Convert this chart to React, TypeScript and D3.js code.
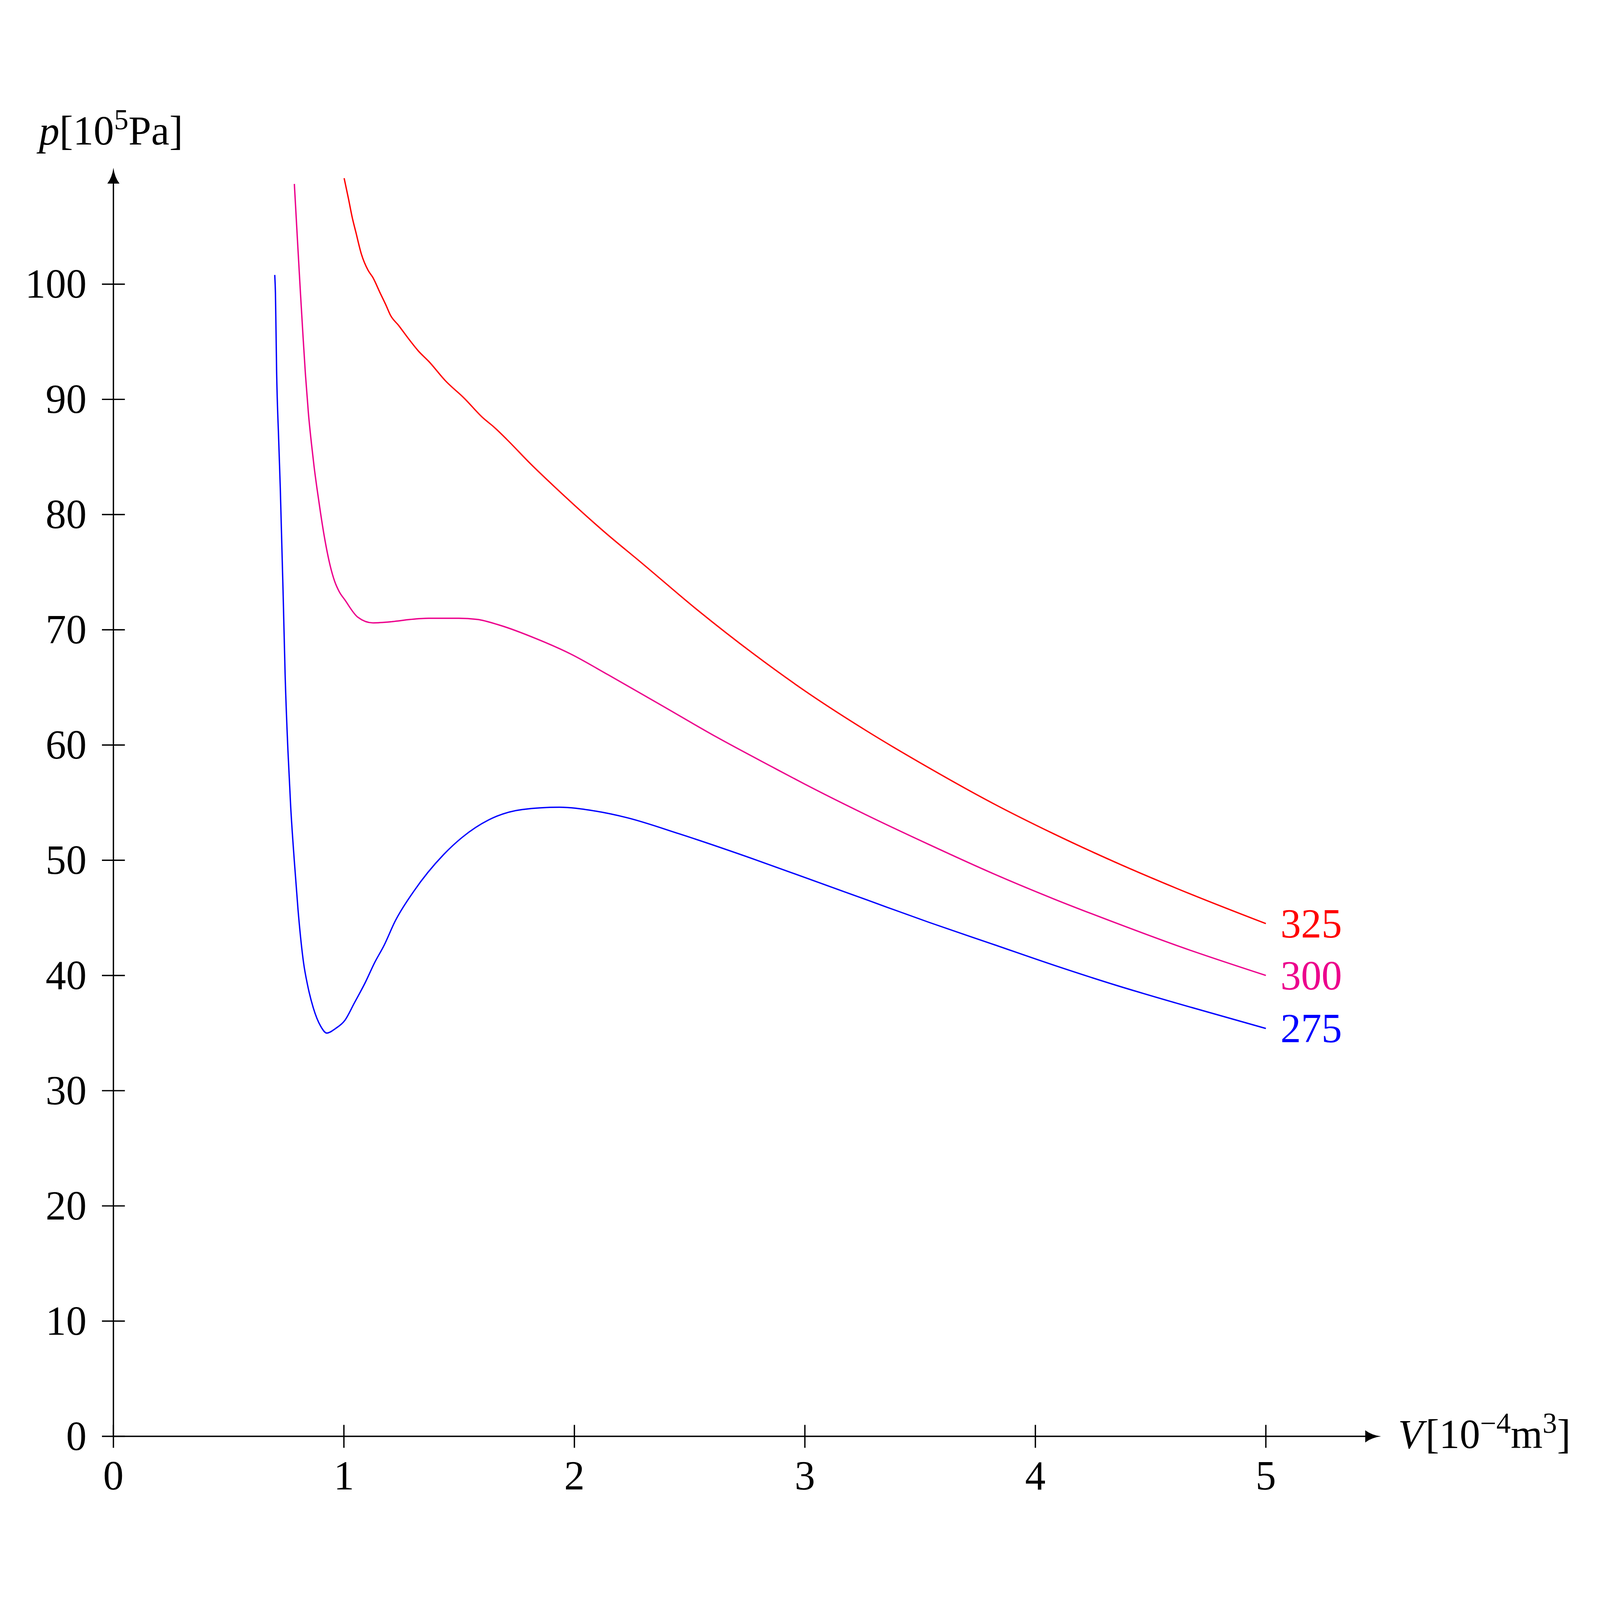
import * as d3 from 'd3'

// volume in 10^-4 m^3, pressure in 10^5 Pa
const v275 = [0.700, 0.703, 0.708, 0.717, 0.724, 0.737, 0.745, 0.757, 0.769, 0.785, 0.801, 0.825, 0.842, 0.867, 0.899, 0.926, 0.964, 1.004, 1.045, 1.093, 1.133, 1.174, 1.222, 1.303, 1.433, 1.514, 1.628, 1.773, 1.935, 2.081, 2.227, 2.454, 2.778, 3.000, 3.270, 3.540, 3.810, 4.079, 4.350, 4.620, 5.000]
const p275 = [100.8, 99.2, 92.5, 86.5, 82.3, 72.6, 66.1, 59.6, 54.7, 49.9, 45.7, 41.1, 39.2, 37.2, 35.6, 35.0, 35.4, 36.1, 37.6, 39.4, 41.1, 42.6, 44.7, 47.3, 50.5, 52.0, 53.5, 54.4, 54.6, 54.3, 53.7, 52.3, 50.1, 48.5, 46.55, 44.6, 42.75, 40.9, 39.15, 37.55, 35.4]

const v300 = [0.785, 0.798, 0.811, 0.822, 0.833, 0.846, 0.859, 0.871, 0.883, 0.899, 0.915, 0.928, 0.940, 0.960, 0.980, 1.004, 1.060, 1.126, 1.206, 1.288, 1.368, 1.498, 1.579, 1.676, 1.838, 1.984, 2.146, 2.373, 2.616, 2.858, 3.000, 3.270, 3.540, 3.810, 4.079, 4.350, 4.620, 5.000]
const p300 = [108.7, 104.0, 99.4, 95.7, 92.2, 88.8, 86.2, 84.1, 82.3, 80.1, 78.1, 76.7, 75.6, 74.2, 73.3, 72.6, 71.1, 70.6, 70.7, 70.9, 71.0, 71.0, 70.9, 70.4, 69.2, 67.9, 66.1, 63.5, 60.7, 58.1, 56.6, 53.9, 51.35, 48.9, 46.65, 44.55, 42.55, 40.0]

const v325 = [1.001, 1.020, 1.036, 1.052, 1.076, 1.105, 1.125, 1.158, 1.182, 1.202, 1.238, 1.279, 1.323, 1.368, 1.441, 1.522, 1.603, 1.651, 1.708, 1.810, 1.920, 2.130, 2.292, 2.535, 2.778, 3.000, 3.270, 3.540, 3.810, 4.079, 4.350, 4.620, 5.000]
const p325 = [109.2, 107.4, 105.8, 104.5, 102.6, 101.2, 100.6, 99.2, 98.2, 97.3, 96.4, 95.3, 94.2, 93.3, 91.6, 90.1, 88.4, 87.6, 86.5, 84.4, 82.3, 78.5, 75.8, 71.7, 67.9, 64.7, 61.2, 58.0, 55.0, 52.3, 49.8, 47.5, 44.5]

const temps = ['275', '300', '325']
const colors = ['#0000ff', '#ec008c', '#ff0000']

const xTicks = [0, 1, 2, 3, 4, 5]
const yTicks = [0, 10, 20, 30, 40, 50, 60, 70, 80, 90, 100]
const xAxisEnd = 5.5
const yAxisEnd = 110.1

const W = 6560
const H = 5756
const FONT = '"Liberation Serif", "DejaVu Serif", serif'
const FS = 168

export default function App() {
  const x = d3.scaleLinear().domain([0, 5]).range([465, 5190])
  const y = d3.scaleLinear().domain([0, 100]).range([5487, 763])

  const series = [
    { t: temps[0], color: colors[0], pts: v275.map((v, i) => [v, p275[i]]) },
    { t: temps[1], color: colors[1], pts: v300.map((v, i) => [v, p300[i]]) },
    { t: temps[2], color: colors[2], pts: v325.map((v, i) => [v, p325[i]]) },
  ]

  const line = d3.line<number[]>()
    .x(d => x(d[0]))
    .y(d => y(d[1]))
    .curve(d3.curveMonotoneX)

  const x0 = x(0)
  const y0 = y(0)
  const xEnd = x(xAxisEnd)
  const yEnd = y(yAxisEnd)
  const tick = 47
  const sw = 5.5

  // latex style arrow tip pointing right, rotated for the y axis
  const L = 65
  const hw = 25
  const arrow = `M0,0 Q${-L * 0.6},${-hw * 0.2} ${-L},${-hw} L${-L},${hw} Q${-L * 0.6},${hw * 0.2} 0,0 Z`

  return (
    <svg viewBox={`0 0 ${W} ${H}`} preserveAspectRatio="xMidYMid meet"
      style={{ position: 'fixed', left: 0, top: 0, width: '100vw', height: '100vh', display: 'block', background: '#fff' }}
      fontFamily={FONT}>
      <rect width={W} height={H} fill="#fff" />

      {/* axes */}
      <line x1={x0} y1={y0} x2={xEnd - 20} y2={y0} stroke="#000" strokeWidth={sw} />
      <line x1={x0} y1={y0} x2={x0} y2={yEnd + 20} stroke="#000" strokeWidth={sw} />
      <path d={arrow} transform={`translate(${xEnd},${y0})`} fill="#000" />
      <path d={arrow} transform={`translate(${x0},${yEnd}) rotate(-90)`} fill="#000" />

      {xTicks.map(t => (
        <g key={'x' + t}>
          <line x1={x(t)} x2={x(t)} y1={y0 - tick} y2={y0 + tick} stroke="#000" strokeWidth={sw} />
          <text x={x(t)} y={5704} fontSize={FS} textAnchor="middle">{t}</text>
        </g>
      ))}
      {yTicks.map(t => (
        <g key={'y' + t}>
          <line x1={x0 - tick} x2={x0 + tick} y1={y(t)} y2={y(t)} stroke="#000" strokeWidth={sw} />
          <text x={x0 - 110} y={y(t) + 56} fontSize={FS} textAnchor="end">{t}</text>
        </g>
      ))}

      {/* axis labels */}
      <text x={455} y={191} fontSize={FS} textAnchor="middle">
        <tspan fontStyle="italic">p</tspan>
        <tspan>[10</tspan>
        <tspan dy={-63} fontSize={118}>5</tspan>
        <tspan dy={63}>Pa]</tspan>
      </text>
      <text x={5732} y={5535} fontSize={FS}>
        <tspan fontStyle="italic">V</tspan>
        <tspan dx={10}>[10</tspan>
        <tspan dy={-63} fontSize={118}>{'\u22124'}</tspan>
        <tspan dy={63}>m</tspan>
        <tspan dy={-63} fontSize={118}>3</tspan>
        <tspan dy={63}>]</tspan>
      </text>

      {/* isotherms */}
      {series.map(s => {
        const last = s.pts[s.pts.length - 1]
        return (
          <g key={s.t}>
            <path d={line(s.pts) ?? ''} fill="none" stroke={s.color} strokeWidth={sw} strokeLinejoin="round" />
            <text x={x(last[0]) + 60} y={y(last[1]) + 57} fontSize={FS} fill={s.color}>{s.t}</text>
          </g>
        )
      })}
    </svg>
  )
}
